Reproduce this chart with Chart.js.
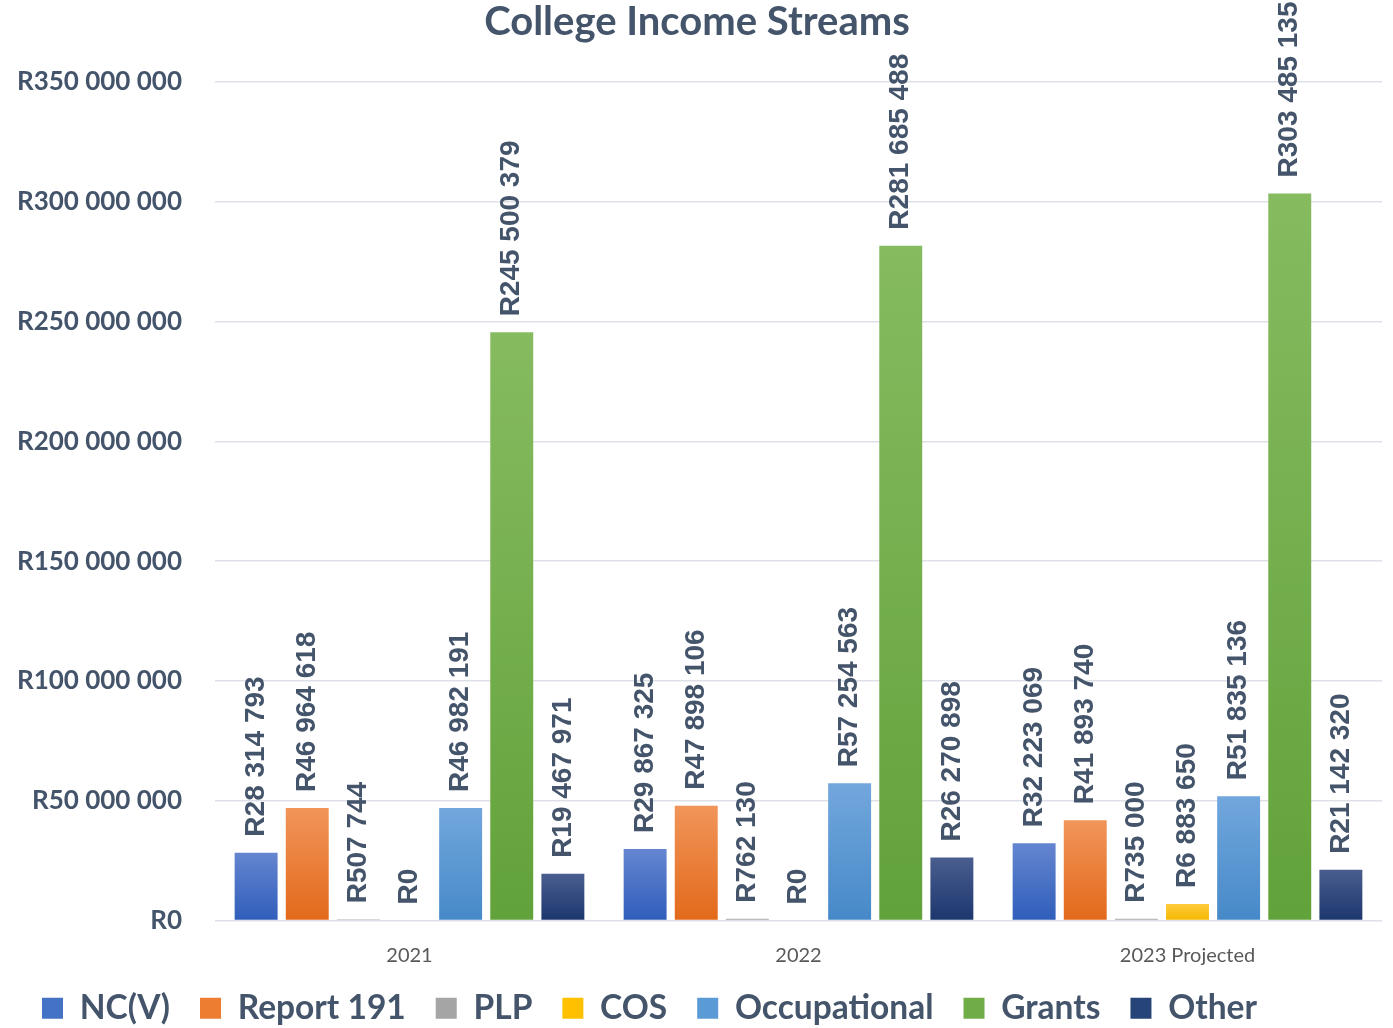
<!DOCTYPE html>
<html>
<head>
<meta charset="utf-8">
<script src="https://cdn.jsdelivr.net/npm/chart.js@4.4.1/dist/chart.umd.min.js"></script>
<style>
  html, body { margin: 0; padding: 0; background: #ffffff; }
  #wrap { width: 1393px; height: 1028px; position: relative; }
</style>
</head>
<body>
<div id="wrap"><canvas id="c" width="1393" height="1028"></canvas></div>
<script>
// ---- Data ----
const categories = ['2021', '2022', '2023 Projected'];
const seriesNames = ['NC(V)', 'Report 191', 'PLP', 'COS', 'Occupational', 'Grants', 'Other'];
const ncv = [28314793, 29867325, 32223069];
const report191 = [46964618, 47898106, 41893740];
const plp = [507744, 762130, 735000];
const cos = [0, 0, 6883650];
const occupational = [46982191, 57254563, 51835136];
const grants = [245500379, 281685488, 303485135];
const other = [19467971, 26270898, 21142320];
const yTicks = [0, 50000000, 100000000, 150000000, 200000000, 250000000, 300000000, 350000000];

// ---- Styles ----
const colorTop = ['#6585D0', '#F1955A', '#B4B4B4', '#FFCB3C', '#72A7DD', '#86BB60', '#4A5D8F'];
const colorBottom = ['#2F5EBB', '#E3691A', '#959595', '#F5B800', '#4689C8', '#62A23A', '#1C376E'];
const colorMid = ['#4472C4', '#ED7D31', '#A5A5A5', '#FFC000', '#5B9BD5', '#70AD47', '#264478'];
const textColor = '#44546A';

function fmtR(v) {
  const s = Math.round(v).toString().replace(/\B(?=(\d{3})+(?!\d))/g, ' ');
  return 'R' + s;
}

const allSeries = [ncv, report191, plp, cos, occupational, grants, other];

function gradFor(i) {
  return function (ctx) {
    const chart = ctx.chart;
    const area = chart.chartArea;
    if (!area || ctx.type !== 'data' || !chart.scales.y) return colorMid[i];
    const y = chart.scales.y;
    const top = y.getPixelForValue(ctx.raw);
    const base = y.getPixelForValue(0);
    if (!(base - top > 0.5)) return colorMid[i];
    const g = chart.ctx.createLinearGradient(0, top, 0, base);
    g.addColorStop(0, colorTop[i]);
    g.addColorStop(1, colorBottom[i]);
    return g;
  };
}

const datasets = allSeries.map((arr, i) => ({
  label: seriesNames[i],
  data: arr,
  backgroundColor: gradFor(i),
  borderWidth: 0,
  categoryPercentage: 0.92,
  barPercentage: 0.84
}));

const valueLabels = {
  id: 'valueLabels',
  afterDatasetsDraw(chart) {
    const ctx = chart.ctx;
    ctx.save();
    ctx.font = 'bold 28px "Liberation Sans", Arial, sans-serif';
    ctx.fillStyle = textColor;
    ctx.textAlign = 'left';
    ctx.textBaseline = 'middle';
    chart.data.datasets.forEach((ds, di) => {
      const meta = chart.getDatasetMeta(di);
      meta.data.forEach((el, idx) => {
        const v = ds.data[idx];
        ctx.save();
        ctx.translate(el.x, el.y - 16);
        ctx.rotate(-Math.PI / 2);
        ctx.fillText(fmtR(v), 0, 0);
        ctx.restore();
      });
    });
    ctx.restore();
  }
};

new Chart(document.getElementById('c'), {
  type: 'bar',
  data: { labels: categories, datasets: datasets },
  plugins: [valueLabels],
  options: {
    responsive: false,
    animation: false,
    layout: { padding: { left: 12, right: 11, top: 1, bottom: -7 } },
    plugins: {
      title: {
        display: true,
        text: 'College Income Streams',
        color: textColor,
        font: { family: 'Lato, "Open Sans", sans-serif', size: 40, weight: 'bold', lineHeight: 1.0 },
        padding: { top: 1, bottom: 40 }
      },
      legend: {
        position: 'bottom',
        align: 'start',
        labels: {
          color: textColor,
          font: { family: 'Lato, "Open Sans", sans-serif', size: 33.5, weight: 'bold' },
          boxWidth: 21,
          boxHeight: 21,
          padding: 30,
          generateLabels(chart) {
            return chart.data.datasets.map((ds, i) => ({
              text: ds.label,
              fillStyle: colorMid[i],
              strokeStyle: colorMid[i],
              lineWidth: 0,
              hidden: false,
              datasetIndex: i,
              fontColor: textColor
            }));
          }
        }
      },
      tooltip: { enabled: false }
    },
    scales: {
      x: {
        grid: { display: false },
        border: { display: false },
        ticks: {
          color: '#595959',
          font: { family: 'Lato, "Open Sans", sans-serif', size: 20 },
          padding: 15
        },
        afterFit(scale) {
          scale.height = 41;
          scale._computeLabelArea = function () { return undefined; };
        }
      },
      y: {
        min: 0,
        max: 350000000,
        afterBuildTicks(scale) { scale.ticks = yTicks.map(v => ({ value: v })); },
        grid: { color: '#DDE1E7', lineWidth: 1.5, drawTicks: false },
        border: { display: false },
        ticks: {
          color: textColor,
          font: { family: 'Lato, "Open Sans", sans-serif', size: 26, weight: 'bold' },
          padding: 33,
          callback: (v) => fmtR(v)
        },
        afterFit(scale) { scale.width = 203; }
      }
    }
  }
});
</script>
</body>
</html>
